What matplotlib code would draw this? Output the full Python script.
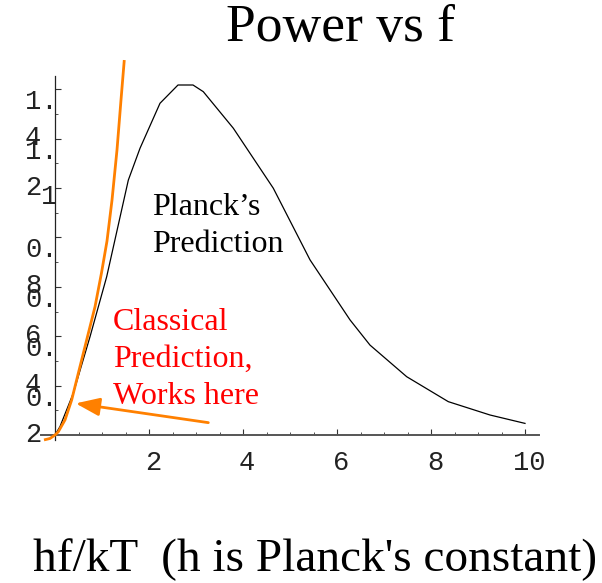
import matplotlib
matplotlib.use("Agg")
import matplotlib.pyplot as plt
import numpy as np

# ---------------- data ----------------
planck_x = [0.0, 0.106, 0.389, 0.745, 1.10, 1.56, 1.809, 2.234, 2.617, 2.936,
            3.155, 3.794, 4.645, 5.426, 6.277, 6.702, 7.483, 8.368, 9.255, 10.0]
planck_y = [0.0, 0.034, 0.169, 0.398, 0.641, 1.032, 1.161, 1.343, 1.417, 1.417,
            1.390, 1.242, 0.999, 0.709, 0.466, 0.364, 0.236, 0.135, 0.081, 0.047]

classical_x = [-0.234, -0.106, 0.0, 0.070, 0.213, 0.355, 0.496, 0.674, 0.851, 0.989,
               1.106, 1.213, 1.319, 1.404, 1.474]
classical_y = [-0.020, -0.014, 0.0, 0.013, 0.061, 0.142, 0.250, 0.385, 0.519, 0.656,
               0.785, 0.951, 1.154, 1.356, 1.518]

arrow_tail = (3.262, 0.050)
arrow_head = (0.440, 0.128)

x_major = [2, 4, 6, 8, 10]
x_labels = ["2", "4", "6", "8", "10"]
y_major = [0.2, 0.4, 0.6, 0.8, 1.2, 1.4]
y_labels = ["0.\n2", "0.\n4", "0.\n6", "0.\n8", "1.\n2", "1.\n4"]
y_one = 1.0
y_one_label = "1"

title = "Power vs f"
xlabel = "hf/kT  (h is Planck's constant)"
planck_text = ["Planck\u2019s", "Prediction"]
classical_text = ["Classical", "Prediction,", "Works here"]

# ---------------- layout ----------------
W, H = 602, 583
fig = plt.figure(figsize=(W / 100, H / 100), dpi=100)

x0px, sx = 55.0, 47.0     # pixel of x=0, pixels per unit
y0px, sy = 435.0, 247.0   # pixel of y=0, pixels per unit
xlim = (-0.30, 10.30)
ylim = (-0.020, 1.455)
left_px = x0px + xlim[0] * sx
right_px = x0px + xlim[1] * sx
bot_px = y0px - ylim[0] * sy
top_px = y0px - ylim[1] * sy
ax = fig.add_axes([left_px / W, (H - bot_px) / H, (right_px - left_px) / W, (bot_px - top_px) / H])
ax.set_xlim(*xlim)
ax.set_ylim(*ylim)
ax.patch.set_alpha(0)

for s in ["top", "right"]:
    ax.spines[s].set_visible(False)
ax.spines["left"].set_position(("data", 0))
ax.spines["bottom"].set_position(("data", 0))
ax.spines["bottom"].set_color("#555555")
ax.spines["bottom"].set_linewidth(1.4)
ax.spines["left"].set_color("#222222")
ax.spines["left"].set_linewidth(0.9)

ax.set_xticks(x_major)
ax.set_xticks(np.arange(0.5, 10.01, 0.5), minor=True)
ax.set_yticks(y_major + [y_one])
ax.set_yticks(np.arange(0.1, 1.41, 0.1), minor=True)
ax.tick_params(axis="both", which="both", direction="in", labelbottom=False, labelleft=False)
ax.tick_params(axis="x", which="major", length=4, width=0.8, color="#333333")
ax.tick_params(axis="x", which="minor", length=2.5, width=0.6, color="#333333")
ax.tick_params(axis="y", which="major", length=4, width=0.8, color="#333333")
ax.tick_params(axis="y", which="minor", length=2.5, width=0.6, color="#333333")

# curves
ax.plot(planck_x, planck_y, color="black", lw=0.9, clip_on=False, zorder=3)
ax.plot(classical_x, classical_y, color="#FF8000", lw=2.0, clip_on=False, zorder=4,
        solid_capstyle="butt", solid_joinstyle="round")
ax.annotate("", xy=arrow_head, xytext=arrow_tail,
            arrowprops=dict(arrowstyle="-|>,head_length=1.45,head_width=0.55",
                            color="#FF8000", lw=2.0, shrinkA=0, shrinkB=0),
            zorder=5, annotation_clip=False)

# tick labels
mono = "Liberation Mono"
tfs = 19.5
for xv, lab in zip(x_major, x_labels):
    px = x0px + xv * sx + 4
    fig.text(px / W, 1 - 463 / H, lab, family=mono, fontsize=tfs, ha="center",
             va="center", color="#222222")

for yv, lab in zip(y_major, y_labels):
    tick_px = y0px - yv * sy
    first, second = lab.split("\n")
    fig.text(25 / W, 1 - (tick_px + 13) / H, first, family=mono, fontsize=tfs,
             ha="left", va="center", color="#222222")
    fig.text(25 / W, 1 - (tick_px + 49) / H, second, family=mono, fontsize=tfs,
             ha="left", va="center", color="#222222")
one_px = y0px - y_one * sy
fig.text(57 / W, 1 - (one_px + 9) / H, y_one_label, family=mono, fontsize=tfs,
         ha="right", va="center", color="#222222")

serif = "Liberation Serif"
fig.text(341 / W, 1 - 41 / H, title, family=serif, fontsize=38.5, ha="center",
         va="baseline", color="black")
fig.text(33 / W, 1 - 571 / H, xlabel, family=serif, fontsize=34, ha="left",
         va="baseline", color="black")

for i, line in enumerate(planck_text):
    fig.text(152 / W, 1 - (215 + 37 * i) / H, line, family=serif, fontsize=23,
             ha="left", va="baseline", color="black")
for i, line in enumerate(classical_text):
    fig.text(113 / W, 1 - (330 + 37 * i) / H, line, family=serif, fontsize=23,
             ha="left", va="baseline", color="#FF0000")

fig.savefig("out.png", dpi=100)
